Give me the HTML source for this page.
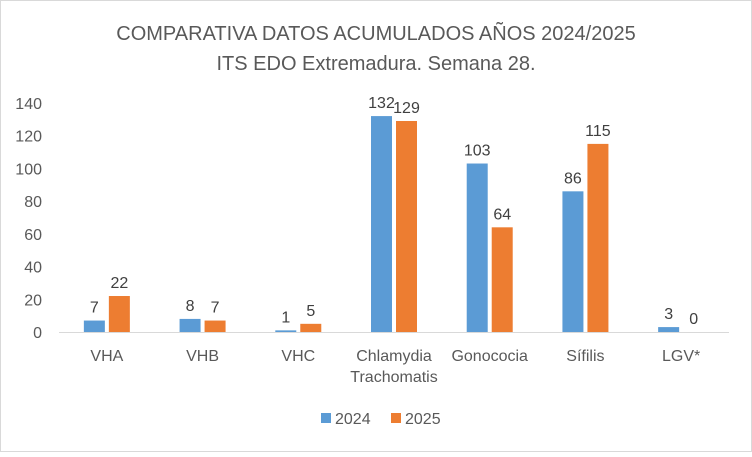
<!DOCTYPE html>
<html><head><meta charset="utf-8"><style>
body{margin:0;background:#fff;}
#c{position:relative;width:752px;height:452px;font-family:"Liberation Sans",sans-serif;}
</style></head><body>
<div id="c">
<svg id="s" width="752" height="452" xmlns="http://www.w3.org/2000/svg">
<rect x="0.5" y="0.5" width="751" height="451" fill="#fff" stroke="#d9d9d9"/>
<text x="376" y="40" text-anchor="middle" font-size="20" fill="#595959">COMPARATIVA DATOS ACUMULADOS AÑOS 2024/2025</text>
<text x="376" y="70" text-anchor="middle" font-size="20" fill="#595959">ITS EDO Extremadura. Semana 28.</text>
<g id="g"></g>
</svg>
</div>
<script>
const categories=["VHA","VHB","VHC","Chlamydia|Trachomatis","Gonococia","Sífilis","LGV*"];
const values2024=[7,8,1,132,103,86,3];
const values2025=[22,7,5,129,64,115,0];
const yTicks=[0,20,40,60,80,100,120,140];
const seriesNames=["2024","2025"];
const colors=["#5b9bd5","#ed7d31"];
const NS="http://www.w3.org/2000/svg";
const g=document.getElementById('g');
const x0=59,x1=729,y0=332,y140=103;
const yS=v=>y0-(v/140)*(y0-y140);
const cw=(x1-x0)/categories.length;
const xC=i=>x0+cw*(i+0.5);
function mk(t,a,txt){const e=document.createElementNS(NS,t);for(const k in a)e.setAttribute(k,a[k]);if(txt!==undefined)e.textContent=txt;g.appendChild(e);return e;}
yTicks.forEach(v=>{
 const e=mk('text',{x:42,y:yS(v)+6,'text-anchor':'end','font-size':16,fill:'#595959'},v);
 
 
});
const ax=mk('line',{x1:x0,x2:x1,y1:y0+0.5,y2:y0+0.5,stroke:'#d9d9d9'});


const bw=21;
[values2024,values2025].forEach((vals,s)=>{
 vals.forEach((v,i)=>{
  const bx=s===0?xC(i)-bw-2:xC(i)+2;
  const r=mk('rect',{x:bx,y:yS(v),width:bw,height:y0-yS(v),fill:colors[s]});
  
  
  const t=mk('text',{x:bx+bw/2,y:yS(v)-8,'text-anchor':'middle','font-size':16,fill:'#404040'},v);
  
  
 });
});
categories.forEach((c,i)=>{
 c.split('|').forEach((ln,j)=>{
  const t=mk('text',{x:xC(i),y:361+j*21,'text-anchor':'middle','font-size':16,fill:'#595959'},ln);
  
  
 });
});
seriesNames.forEach((n,s)=>{
 const lx=321+s*70;
 const r=mk('rect',{x:lx,y:413,width:10,height:10,fill:colors[s]});
 
 
 const t=mk('text',{x:lx+14,y:424,'font-size':16,fill:'#595959'},n);
 
 
});
</script>
</body></html>
